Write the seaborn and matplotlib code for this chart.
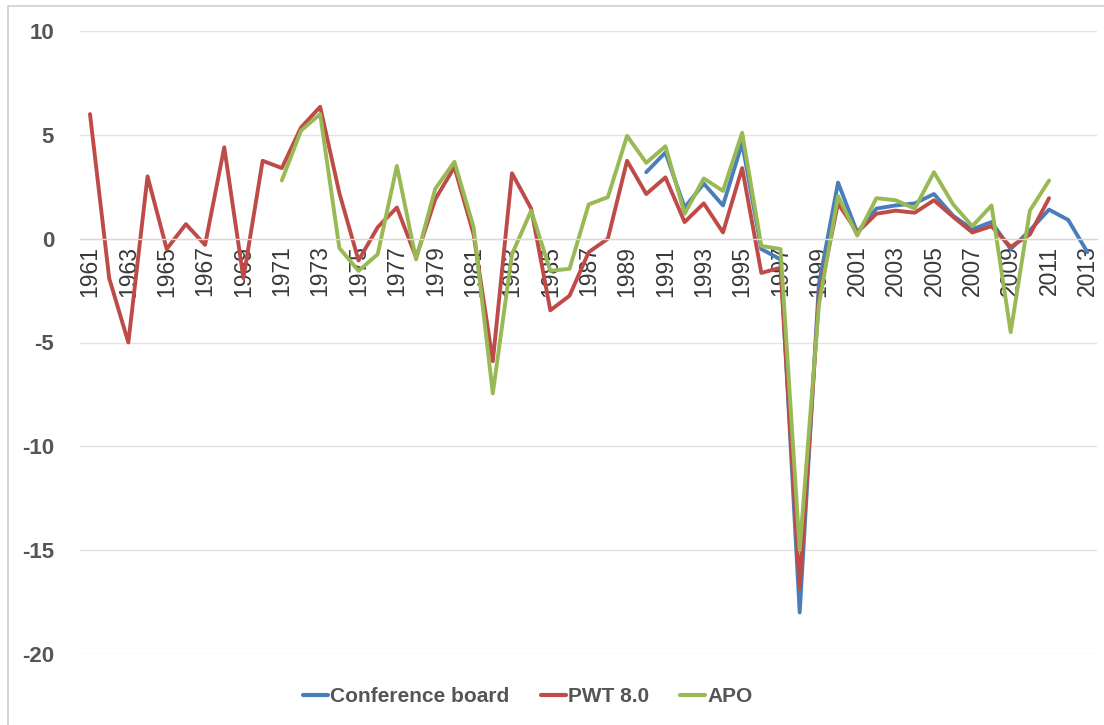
import numpy as np
import pandas as pd
import matplotlib
matplotlib.use("Agg")
import matplotlib.pyplot as plt
from matplotlib.lines import Line2D
import seaborn as sns

# values (annual growth, %)
years_pwt = list(range(1961, 2012))
pwt = [6.0, -1.9, -5.0, 3.0, -0.5, 0.7, -0.3, 4.4, -1.9, 3.75,
       3.4, 5.35, 6.35, 2.2, -1.05, 0.55, 1.5, -0.9, 1.9, 3.45,
       0.2, -5.9, 3.15, 1.45, -3.45, -2.75, -0.65, 0.0, 3.75, 2.15,
       2.95, 0.8, 1.7, 0.3, 3.4, -1.65, -1.4, -16.8, -2.8, 1.7,
       0.3, 1.2, 1.35, 1.25, 1.85, 1.05, 0.3, 0.6, -0.4, 0.2,
       1.95]

years_apo = list(range(1971, 2012))
apo = [2.8, 5.2, 6.0, -0.45, -1.55, -0.75, 3.5, -1.0, 2.4, 3.7,
       0.55, -7.45, -0.75, 1.35, -1.55, -1.45, 1.65, 2.0, 4.95, 3.65,
       4.45, 1.2, 2.9, 2.3, 5.1, -0.35, -0.5, -15.0, -3.2, 2.05,
       0.15, 1.95, 1.85, 1.45, 3.2, 1.65, 0.6, 1.6, -4.5, 1.35,
       2.8]

years_cb = list(range(1990, 2014))
cb = [3.2, 4.15, 1.5, 2.65, 1.6, 4.6, -0.5, -1.0, -18.0, -2.2,
      2.7, 0.3, 1.45, 1.6, 1.7, 2.15, 1.1, 0.45, 0.8, -0.5,
      0.4, 1.4, 0.9, -0.65]

series_names = ["Conference board", "PWT 8.0", "APO"]
colors = ["#4a7ebb", "#be4b48", "#98b954"]

df = pd.concat([
    pd.DataFrame({"year": years_cb, "value": cb, "source": series_names[0]}),
    pd.DataFrame({"year": years_pwt, "value": pwt, "source": series_names[1]}),
    pd.DataFrame({"year": years_apo, "value": apo, "source": series_names[2]}),
])

sns.set_style("white")
plt.rcParams['font.family'] = ['Liberation Sans', 'DejaVu Sans']
plt.rcParams['axes.unicode_minus'] = False

fig = plt.figure(figsize=(11.04, 7.25), dpi=100)
ax = fig.add_axes([80.4 / 1104, 1 - 654 / 725, (1097 - 80.4) / 1104, (654 - 31) / 725])

sns.lineplot(data=df, x="year", y="value", hue="source", hue_order=series_names,
             palette=colors, linewidth=2.8, legend=False, ax=ax, estimator=None)

ax.set_xlim(1960.5, 2013.5)
ax.set_ylim(-20, 10)
ax.set_yticks(np.arange(-20, 11, 5))
ax.yaxis.grid(True, color="#e3e3e3", linewidth=1.0)
ax.xaxis.grid(False)
ax.set_axisbelow(True)
for s in ["top", "right", "left"]:
    ax.spines[s].set_visible(False)
ax.spines["bottom"].set_position(("data", 0))
ax.spines["bottom"].set_color("#d9d9d9")
ax.spines["bottom"].set_linewidth(1.0)
ax.set_xlabel("")
ax.set_ylabel("")

xt = list(range(1961, 2014, 2))
ax.set_xticks(xt)
ax.set_xticklabels([str(y) for y in xt], rotation=90, color="#383838", fontsize=16.5)
ax.tick_params(axis="x", length=0, pad=5)
ax.tick_params(axis="y", length=0, pad=19, labelsize=16, labelcolor="#555555")
for lbl in ax.get_yticklabels():
    lbl.set_fontweight("bold")

handles = [Line2D([0], [0], color=c, linewidth=3) for c in colors]
fig.legend(handles, series_names, loc="center", bbox_to_anchor=(528 / 1104, 1 - 697 / 725),
           ncol=3, frameon=False, handlelength=1.2, handletextpad=0.1, columnspacing=1.5,
           prop={"weight": "bold", "size": 15}, labelcolor="#555555")

# chart area border (top and left visible in the reference)
fig.add_artist(Line2D([8 / 1104, 8 / 1104], [0, 1 - 6 / 725], transform=fig.transFigure,
                      color="#d0d0d0", linewidth=1.2))
fig.add_artist(Line2D([8 / 1104, 1], [1 - 6 / 725, 1 - 6 / 725], transform=fig.transFigure,
                      color="#d0d0d0", linewidth=1.2))

fig.savefig("out.png", dpi=100, facecolor="white")
